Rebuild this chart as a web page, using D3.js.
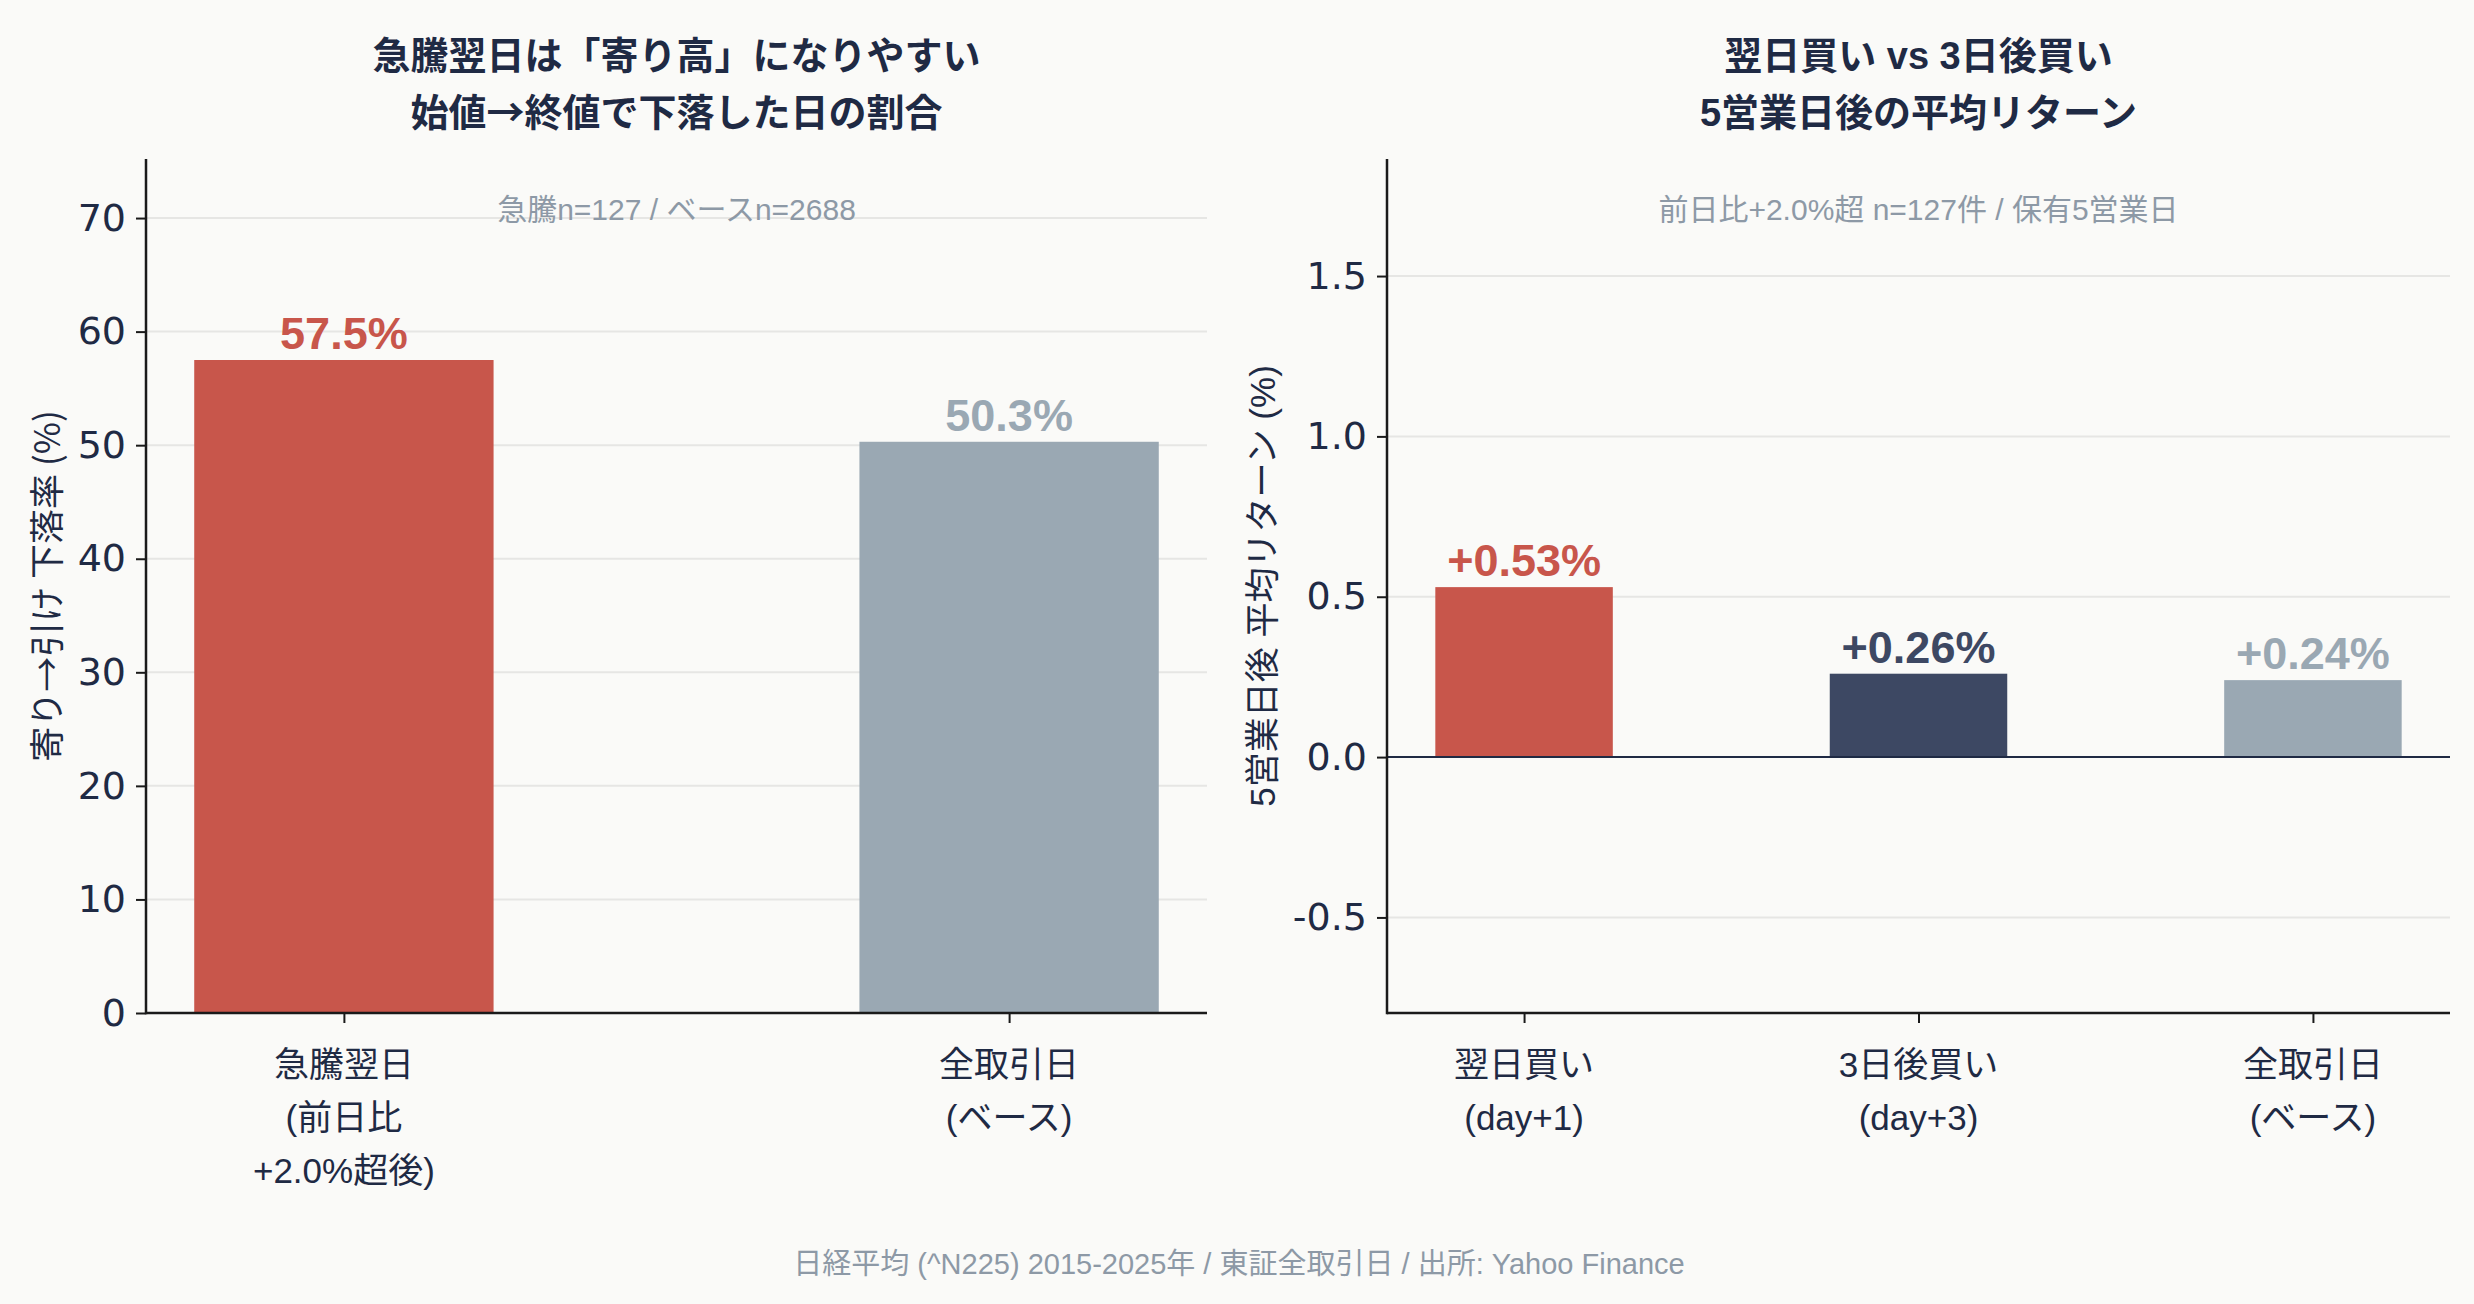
<!DOCTYPE html>
<html><head><meta charset="utf-8">
<script src="https://cdn.jsdelivr.net/npm/d3@7"></script>
<style>
html,body{margin:0;padding:0;background:#fafaf8;}
svg{display:block;}
</style></head><body>
<svg id="c" width="2474" height="1304"></svg>
<script>
// ---- data ----
const leftCategories = [["急騰翌日","(前日比","+2.0%超後)"],["全取引日","(ベース)"]];
const leftValues = [57.5, 50.3];
const leftLabels = ["57.5%", "50.3%"];
const leftTicks = [0,10,20,30,40,50,60,70];
const rightCategories = [["翌日買い","(day+1)"],["3日後買い","(day+3)"],["全取引日","(ベース)"]];
const rightValues = [0.53, 0.26, 0.24];
const rightLabels = ["+0.53%", "+0.26%", "+0.24%"];
const rightTicks = [-0.5, 0.0, 0.5, 1.0, 1.5];

const RED = "#c8564b", NAVY = "#3d4863", GRAY = "#9aa8b3";
const leftColors = [RED, GRAY];
const rightColors = [RED, NAVY, GRAY];
const TXT = "#1f2a44", SUB = "#8d99a6";
const JP = "'Liberation Sans','Noto Sans CJK JP',sans-serif";
const CJK = "'Noto Sans CJK JP',sans-serif";
const NUM = "'DejaVu Sans','Noto Sans',sans-serif";
const VAL = "'Liberation Sans','Noto Sans',sans-serif";
const fontFor = t => t.includes("→") ? CJK : JP;

const svg = d3.select("#c");
svg.append("rect").attr("width",2474).attr("height",1304).attr("fill","#fafaf8");

function panel(opt){
  const {x0,x1,y0,y1,xdom,ydom,cats,vals,labels,colors,ticks,tickFmt,title,note,ylabel,ylabelX,zeroLine} = opt;
  const x = d3.scaleLinear().domain(xdom).range([x0,x1]);
  const y = d3.scaleLinear().domain(ydom).range([y1,y0]);
  const g = svg.append("g");
  // grid
  g.selectAll(".grid").data(ticks).join("line")
    .attr("x1",x0).attr("x2",x1).attr("y1",d=>y(d)).attr("y2",d=>y(d))
    .attr("stroke","#e6e6e4").attr("stroke-width",2);
  // bars
  const bw = x(0.45)-x(0);
  g.selectAll(".bar").data(vals).join("rect")
    .attr("x",(d,i)=>x(i)-bw/2).attr("width",bw)
    .attr("y",d=>y(Math.max(0,d))).attr("height",d=>Math.abs(y(d)-y(0)))
    .attr("fill",(d,i)=>colors[i]);
  if(zeroLine){
    g.append("line").attr("x1",x0).attr("x2",x1).attr("y1",y(0)).attr("y2",y(0))
      .attr("stroke",TXT).attr("stroke-width",2);
  }
  // value labels
  g.selectAll(".val").data(vals).join("text")
    .attr("x",(d,i)=>x(i)).attr("y",d=>y(d)-11)
    .attr("text-anchor","middle").attr("font-family",VAL).attr("font-weight",700)
    .attr("font-size",45).attr("fill",(d,i)=>colors[i]).text((d,i)=>labels[i]);
  // y axis
  const ya = d3.axisLeft(y).tickValues(ticks).tickFormat(tickFmt).tickSize(10).tickPadding(10);
  const yg = g.append("g").attr("transform",`translate(${x0},0)`).call(ya);
  yg.select(".domain").remove();
  yg.selectAll(".tick line").attr("stroke","#1a1a1a").attr("stroke-width",2);
  yg.selectAll(".tick text").attr("font-family",NUM).attr("font-size",38).attr("fill",TXT);
  // x axis ticks
  const xa = d3.axisBottom(x).tickValues(d3.range(cats.length)).tickFormat("").tickSize(10);
  const xg = g.append("g").attr("transform",`translate(0,${y1})`).call(xa);
  xg.select(".domain").remove();
  xg.selectAll(".tick line").attr("stroke","#1a1a1a").attr("stroke-width",2);
  // category labels
  cats.forEach((lines,i)=>{
    lines.forEach((t,j)=>{
      g.append("text").attr("x",x(i)).attr("y",y1+64+j*53)
        .attr("text-anchor","middle").attr("font-family",JP).attr("font-size",35)
        .attr("fill",TXT).text(t);
    });
  });
  // spines
  g.append("line").attr("x1",x0).attr("x2",x0).attr("y1",y0).attr("y2",y1+1.25)
    .attr("stroke","#1a1a1a").attr("stroke-width",2.5);
  g.append("line").attr("x1",x0).attr("x2",x1).attr("y1",y1).attr("y2",y1)
    .attr("stroke","#1a1a1a").attr("stroke-width",2.5);
  // titles
  const cx = (x0+x1)/2;
  title.forEach((t,j)=>{
    g.append("text").attr("x",cx).attr("y",69+j*57).attr("text-anchor","middle")
      .attr("font-family",fontFor(t)).attr("font-weight",700).attr("font-size",38)
      .attr("fill",TXT).text(t);
  });
  g.append("text").attr("x",cx).attr("y",220).attr("text-anchor","middle")
    .attr("font-family",JP).attr("font-size",30).attr("fill",SUB).text(note);
  // y label
  const cy = (y0+y1)/2;
  g.append("text").attr("transform",`translate(${ylabelX},${cy}) rotate(-90)`)
    .attr("text-anchor","middle").attr("dominant-baseline","central")
    .attr("font-family",fontFor(ylabel)).attr("font-size",35).attr("fill",TXT).text(ylabel);
}

panel({x0:146,x1:1207,y0:159,y1:1013,xdom:[-0.2975,1.2975],ydom:[0,75.2],
  cats:leftCategories,vals:leftValues,labels:leftLabels,colors:leftColors,
  ticks:leftTicks,tickFmt:d3.format("d"),
  title:["急騰翌日は「寄り高」になりやすい","始値→終値で下落した日の割合"],
  note:"急騰n=127 / ベースn=2688",ylabel:"寄り→引け 下落率 (%)",ylabelX:44,zeroLine:false});

panel({x0:1387,x1:2450,y0:159,y1:1013,xdom:[-0.3475,2.3475],ydom:[-0.798,1.865],
  cats:rightCategories,vals:rightValues,labels:rightLabels,colors:rightColors,
  ticks:rightTicks,tickFmt:d=>d3.format(".1f")(d).replace("−","-"),
  title:["翌日買い vs 3日後買い","5営業日後の平均リターン"],
  note:"前日比+2.0%超 n=127件 / 保有5営業日",ylabel:"5営業日後 平均リターン (%)",ylabelX:1262,zeroLine:true});

svg.append("text").attr("x",1239).attr("y",1274).attr("text-anchor","middle")
  .attr("font-family",JP).attr("font-size",29).attr("fill",SUB)
  .text("日経平均 (^N225) 2015-2025年 / 東証全取引日 / 出所: Yahoo Finance");
</script>
</body></html>
